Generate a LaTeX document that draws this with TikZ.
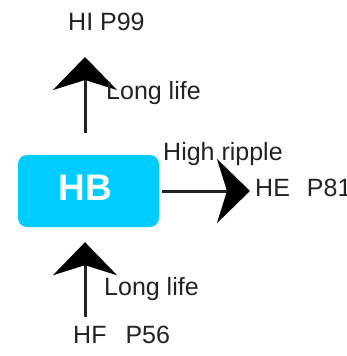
\documentclass[tikz,border=0pt]{standalone}
\usepackage{fontspec}
\setmainfont{Liberation Sans}
\usetikzlibrary{arrows.meta,calc}
\definecolor{boxcyan}{RGB}{0,204,255}
\definecolor{ink}{RGB}{34,34,34}
\tikzset{
  lbl/.style={inner sep=0pt, anchor=base west, text=ink, font=\fontsize{25}{25}\selectfont},
  box/.style={fill=boxcyan, rounded corners=9pt, minimum width=141pt, minimum height=72pt, inner sep=0pt},
  edge/.style={draw=ink, line width=3pt, -{Stealth[length=33pt,width=64pt,inset=10pt,color=black]}},
}
\begin{document}
\begin{tikzpicture}[x=1pt,y=1pt]
\useasboundingbox (0,0) rectangle (346,-356);
\node[box] (HB) at (88.5,-191) {};
\node[inner sep=0pt, anchor=base west, text=white, font=\fontsize{37}{37}\selectfont\bfseries] (HBt) at (58.3,-200) {HB};
\node[lbl] (HI) at (68,-30) {HI P99};
\node[lbl] (HE) at (255,-196) {HE\hspace{17pt}P81};
\node[lbl] (HF) at (73,-343) {HF\hspace{19pt}P56};
\draw[edge, shorten <=22pt, shorten >=27pt] ([xshift=-3.5pt]HB.north) -- ([xshift=-3.5pt]HB.north |- HI.base);
\draw[edge, shorten <=3pt, shorten >=5pt] (HB.east) -- (HB.east -| HE.west);
\draw[edge, shorten <=8pt, shorten >=15pt] ([xshift=-3.5pt]HB.south |- HF.north) -- ([xshift=-3.5pt]HB.south);
\node[lbl] (L1) at (106,-99) {Long life};
\node[lbl] (L2) at (163,-160) {High ripple};
\node[lbl] (L3) at (104,-295) {Long life};
\end{tikzpicture}
\end{document}
